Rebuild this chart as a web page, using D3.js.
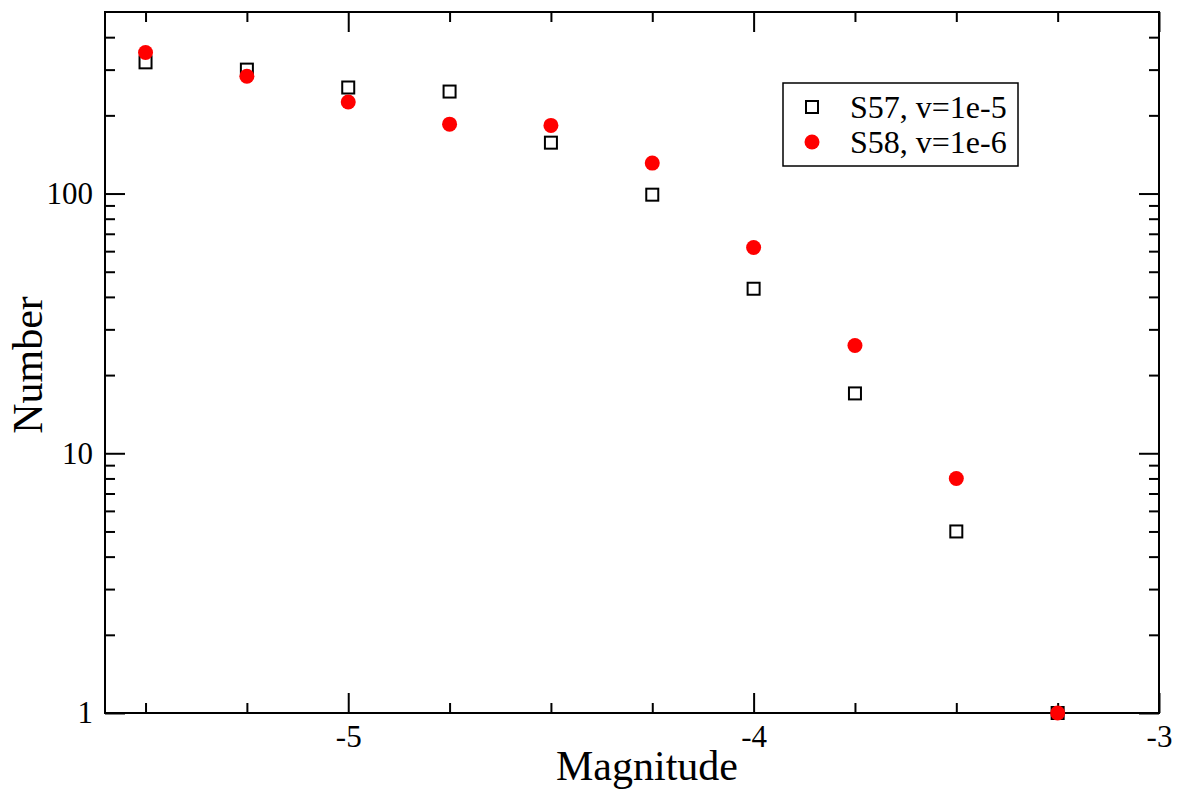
<!DOCTYPE html>
<html>
<head>
<meta charset="utf-8">
<script src="https://d3js.org/d3.v7.min.js"></script>
<style>
  body { margin: 0; background: #fff; }
  svg text { font-family: "Liberation Serif", "Times New Roman", serif; fill: #000; }
  .axis path, .axis line { stroke: #000; stroke-width: 2px; }
</style>
</head>
<body>
<script>
// magnitude bins
var magnitudes = [-5.5, -5.25, -5, -4.75, -4.5, -4.25, -4, -3.75, -3.5, -3.25];
// S57, v=1e-5 (open squares)
var s57 = [320, 300, 256, 247, 157, 99, 43, 17, 5, 1];
// S58, v=1e-6 (red circles)
var s58 = [349, 283, 225, 185, 183, 131, 62, 26, 8, 1];

var xMajor = [-5, -4, -3];
var xMinor = [-5.5, -5.25, -4.75, -4.5, -4.25, -3.75, -3.5, -3.25];
var yMajor = [1, 10, 100];
var yMinor = [2, 3, 4, 5, 6, 7, 8, 9, 20, 30, 40, 50, 60, 70, 80, 90, 200, 300, 400];

var W = 1181, H = 794;
var pL = 105, pR = 1159, pT = 12, pB = 713;

var svg = d3.select("body").append("svg")
  .attr("width", W).attr("height", H);

var x = d3.scaleLinear().domain([-5.6, -3]).range([pL, pR]);
var y = d3.scaleLog().domain([1, 500]).range([pB, pT]);

// frame
svg.append("rect")
  .attr("x", pL).attr("y", pT)
  .attr("width", pR - pL).attr("height", pB - pT)
  .attr("fill", "none").attr("stroke", "#000").attr("stroke-width", 2);

function tickAxis(axisFn, scale, vals, size, labels, tx, ty) {
  var ax = axisFn(scale).tickValues(vals).tickSize(size).tickSizeOuter(0);
  if (labels) ax.tickFormat(function(d) { return String(d); }).tickPadding(12);
  else ax.tickFormat("");
  var g = svg.append("g").attr("class", "axis")
    .attr("transform", "translate(" + tx + "," + ty + ")")
    .call(ax);
  g.select(".domain").remove();
  return g;
}

// inward ticks on all four sides
var gb = tickAxis(d3.axisBottom, x, xMajor, -20, true, 0, pB);
gb.selectAll("text").style("font-size", "31px");
tickAxis(d3.axisBottom, x, xMinor, -10, false, 0, pB);
tickAxis(d3.axisTop, x, xMajor, -20, false, 0, pT);
tickAxis(d3.axisTop, x, xMinor, -10, false, 0, pT);

var gl = tickAxis(d3.axisLeft, y, yMajor, -20, true, pL, 0);
gl.selectAll("text").style("font-size", "31px");
tickAxis(d3.axisLeft, y, yMinor, -10, false, pL, 0);
tickAxis(d3.axisRight, y, yMajor, -20, false, pR, 0);
tickAxis(d3.axisRight, y, yMinor, -10, false, pR, 0);

// axis titles
svg.append("text")
  .attr("x", 647).attr("y", 780)
  .attr("text-anchor", "middle")
  .style("font-size", "42px")
  .text("Magnitude");

svg.append("text")
  .attr("transform", "translate(42,365) rotate(-90)")
  .attr("text-anchor", "middle")
  .style("font-size", "42px")
  .text("Number");

// data points
var pts57 = magnitudes.map(function(m, i) { return { m: m, v: s57[i] }; });
var pts58 = magnitudes.map(function(m, i) { return { m: m, v: s58[i] }; });

svg.append("g").selectAll("rect")
  .data(pts57).enter().append("rect")
  .attr("x", function(d) { return x(d.m) - 6; })
  .attr("y", function(d) { return y(d.v) - 6; })
  .attr("width", 12).attr("height", 12)
  .attr("fill", "none").attr("stroke", "#000").attr("stroke-width", 2);

svg.append("g").selectAll("circle")
  .data(pts58).enter().append("circle")
  .attr("cx", function(d) { return x(d.m); })
  .attr("cy", function(d) { return y(d.v); })
  .attr("r", 7.5)
  .attr("fill", "#ff0000");

// legend
var lg = svg.append("g").attr("transform", "translate(783,83)");
lg.append("rect")
  .attr("width", 235).attr("height", 83)
  .attr("fill", "#fff").attr("stroke", "#000").attr("stroke-width", 1.5);
lg.append("rect")
  .attr("x", 23).attr("y", 18).attr("width", 12).attr("height", 12)
  .attr("fill", "none").attr("stroke", "#000").attr("stroke-width", 2);
lg.append("circle")
  .attr("cx", 29).attr("cy", 59).attr("r", 7.5).attr("fill", "#ff0000");
lg.append("text").attr("x", 67).attr("y", 35)
  .style("font-size", "32px").text("S57, v=1e-5");
lg.append("text").attr("x", 67).attr("y", 70)
  .style("font-size", "32px").text("S58, v=1e-6");
</script>
</body>
</html>
